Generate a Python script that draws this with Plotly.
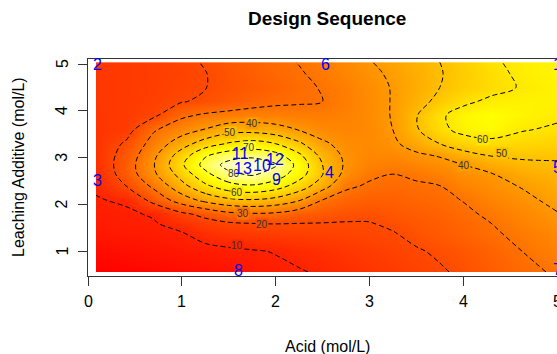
import plotly.graph_objects as go

acid = [0.085, 0.4, 0.7, 1.0, 1.25, 1.5, 1.75, 2.0, 2.25, 2.5, 2.75, 3.0, 3.25, 3.5, 3.75, 4.0, 4.3, 4.65, 5.0]
additive = [0.56, 1.0, 1.4, 1.6, 1.8, 2.1, 2.4, 2.65, 2.85, 3.05, 3.3, 3.6, 3.9, 4.2, 4.5, 4.8, 5.04]

# response[i][j] at additive[i], acid[j]
response = [
    [1, 2, 3, 4, 5, 6, 7.3, 8.5, 9.5, 10.8, 12.5, 14.2, 15.8, 17.5, 19.2, 21.2, 24.5, 28, 31],
    [4, 5, 6, 7, 7.8, 8.6, 9.4, 10.3, 11.8, 13.3, 14.8, 16.3, 17.8, 19.3, 21, 23, 26, 30.2, 34],
    [7, 7.8, 8.2, 9.7, 12.9, 14.8, 16, 16.8, 17.5, 17.8, 18.3, 19, 19.7, 22, 24.1, 26.3, 28.9, 32.5, 36],
    [8, 8.5, 9.3, 13.6, 16.9, 19, 20, 20.2, 20, 19.8, 19.6, 19.7, 21.2, 23.2, 24.8, 27, 30, 34.3, 38],
    [8.5, 8.8, 10.8, 18.2, 22.5, 27.5, 29, 28.3, 24.5, 23.3, 22, 21.5, 23, 24.5, 26, 28.3, 31.5, 35.5, 39.5],
    [9.5, 11, 23.2, 35, 43, 48, 49.5, 47, 41, 30, 26.6, 25, 25.4, 26.7, 28, 30.3, 34.5, 38.1, 42.3],
    [11, 19.8, 32, 47, 58.2, 66.5, 69, 64.8, 55.7, 44.4, 31.5, 29, 27.9, 28.9, 29.9, 34.2, 37.2, 40.8, 45],
    [12, 24, 38.3, 54, 67.4, 77.8, 81.4, 75.7, 64.5, 50.3, 37, 31.5, 30, 31.5, 33.9, 37.4, 39.5, 45, 47.3],
    [13, 24.7, 39.5, 58.6, 73.5, 83.5, 88, 81, 66.7, 50, 38.5, 34, 33, 34.8, 37.1, 40, 44.5, 48.2, 49],
    [13.5, 23.5, 37.9, 55, 69, 75.4, 77.1, 73.6, 62, 47, 38, 35.5, 35.5, 38.5, 40.7, 46.7, 50.5, 51.5, 51.3],
    [14, 21, 33.7, 45.7, 55, 61, 63.8, 60, 51.8, 41.5, 37, 36, 38.5, 43.6, 50, 54.7, 57.1, 55.7, 54.7],
    [14.3, 16, 29, 35.5, 40.5, 46, 46.3, 44, 39.5, 36, 35, 36, 40, 49, 57.4, 63, 65, 60.5, 58.7],
    [14.6, 16, 18.5, 28.5, 31.5, 33, 34, 33.5, 33, 33, 34, 36.5, 40.5, 49.5, 58.5, 64, 66.5, 63.5, 61.5],
    [15, 16, 17.5, 19.5, 21.5, 24, 26.5, 28.5, 29.2, 30, 33, 36.5, 40.5, 46.5, 52.5, 58, 62, 63, 63],
    [15, 16, 17, 18.5, 19.8, 22, 24, 26, 28.3, 30.5, 33.5, 37, 40.5, 45, 50, 53.5, 57, 61, 63],
    [15, 15.8, 16.7, 18, 19.8, 22.5, 25, 27.5, 29.3, 32, 35, 38, 41.5, 45.5, 49.5, 53, 57.5, 62, 64],
    [15, 16, 17, 18.5, 20.5, 23, 25.5, 28, 30.3, 33, 36, 39.5, 43, 46.5, 50, 54, 59, 62, 64],
]

# Design points (run order labels)
design_labels = ["1", "2", "3", "4", "5", "6", "7", "8", "9", "10", "11", "12", "13"]
design_acid = [5.0, 0.1, 0.1, 2.57, 5.0, 2.53, 5.0, 1.6, 2.01, 1.86, 1.63, 1.99, 1.65]
design_additive = [5.0, 5.0, 2.52, 2.69, 2.8, 5.0, 0.62, 0.6, 2.54, 2.84, 3.09, 2.96, 2.77]

# Contour labels as placed in the reference
label_levels = [40, 50, 70, 80, 60, 30, 20, 10, 60, 50, 40]
label_acid = [1.75, 1.51, 1.72, 1.56, 1.59, 1.65, 1.85, 1.59, 4.21, 4.41, 4.01]
label_additive = [3.74, 3.53, 3.21, 2.67, 2.26, 1.82, 1.58, 1.13, 3.40, 3.10, 2.84]

x_ticks = [0, 1, 2, 3, 4, 5]
x_tick_labels = ["0", "1", "2", "3", "4", "5"]
y_ticks = [1, 2, 3, 4, 5]
y_tick_labels = ["1", "2", "3", "4", "5"]
contour_start, contour_end, contour_step = 10, 80, 10

heat = [
    [0.0, "#FF0000"], [0.125, "#FF2A00"], [0.25, "#FF5500"], [0.375, "#FF8000"],
    [0.5, "#FFAA00"], [0.625, "#FFD500"], [0.75, "#FFFF00"], [0.875, "#FFFF80"],
    [1.0, "#FFFFF4"],
]

zmin = min(min(r) for r in response)
zmax = max(max(r) for r in response)


def heat_at(v):
    t = (v - zmin) / (zmax - zmin)
    t = max(0.0, min(1.0, t))
    for (t0, c0), (t1, c1) in zip(heat[:-1], heat[1:]):
        if t0 <= t <= t1:
            f = (t - t0) / (t1 - t0)
            a = [int(c0[i:i + 2], 16) for i in (1, 3, 5)]
            b = [int(c1[i:i + 2], 16) for i in (1, 3, 5)]
            return "rgb(%d,%d,%d)" % tuple(round(p + (q - p) * f) for p, q in zip(a, b))
    return heat[-1][1]


FONT = "Liberation Sans, Arial, Helvetica, sans-serif"

W, H = 557, 354
L, T = 88, 59
PLOT_W = W - L          # plot right edge at x = 557
PLOT_B = 276            # plot bottom at y = 276
PLOT_H = PLOT_B - T


def px_x(page_x):
    return (page_x - L) / PLOT_W


def px_y(page_y):
    return (PLOT_B - page_y) / PLOT_H


fig = go.Figure()
fig.add_trace(go.Contour(
    x=acid, y=additive, z=response, colorscale=heat, zmin=zmin, zmax=zmax,
    contours=dict(coloring="heatmap", showlines=False), ncontours=60,
    line=dict(width=0), showscale=False, hoverinfo="skip",
))
fig.add_trace(go.Contour(
    x=acid, y=additive, z=response,
    contours=dict(coloring="none", start=contour_start, end=contour_end, size=contour_step,
                  showlabels=False),
    line=dict(color="black", width=1, dash="5px,3px", smoothing=1.0),
    showscale=False, hoverinfo="skip",
))

axis_common = dict(
    showgrid=False, zeroline=False, showline=True, linecolor="#333333", linewidth=1,
    mirror=True, ticks="outside", ticklen=9, tickcolor="#333333",
)

annotations = []
# contour level labels (background = heat colour of that level, hides the line under it)
for lv, lx, ly in zip(label_levels, label_acid, label_additive):
    annotations.append(dict(text=str(lv), x=lx, y=ly, xref="x", yref="y", showarrow=False,
                            xanchor="center", yanchor="middle", bgcolor=heat_at(lv),
                            borderpad=0, font=dict(size=10, family=FONT, color="#333333")))
# design point numbers, drawn on top of the contour labels
for lab, dx, dy in zip(design_labels, design_acid, design_additive):
    annotations.append(dict(text=lab, x=dx, y=dy, xref="x", yref="y", showarrow=False,
                            xanchor="center", yanchor="middle",
                            font=dict(size=16, family=FONT, color="#0000FF")))
annotations += [
    dict(text="<b>Design Sequence</b>", x=px_x(327), y=px_y(18),
         xref="paper", yref="paper", showarrow=False, xanchor="center", yanchor="middle",
         font=dict(size=19, family=FONT, color="black")),
    dict(text="Acid (mol/L)", x=px_x(327), y=px_y(346),
         xref="paper", yref="paper", showarrow=False, xanchor="center", yanchor="middle",
         font=dict(size=16, family=FONT, color="black")),
    dict(text="Leaching Additive (mol/L)", x=px_x(18), y=px_y(167), textangle=-90,
         xref="paper", yref="paper", showarrow=False, xanchor="center", yanchor="middle",
         font=dict(size=16, family=FONT, color="black")),
]
for v, lab in zip(x_ticks, x_tick_labels):
    annotations.append(dict(text=lab, x=v, y=px_y(301), xref="x", yref="paper",
                            showarrow=False, xanchor="center", yanchor="middle",
                            font=dict(size=16, family=FONT, color="black")))
for v, lab in zip(y_ticks, y_tick_labels):
    annotations.append(dict(text=lab, x=px_x(62), y=v, xref="paper", yref="y", textangle=-90,
                            showarrow=False, xanchor="center", yanchor="middle",
                            font=dict(size=16, family=FONT, color="black")))

fig.update_layout(
    width=W, height=H, margin=dict(l=L, r=0, t=T, b=H - PLOT_B, autoexpand=False),
    paper_bgcolor="white", plot_bgcolor="white", showlegend=False,
    xaxis=dict(range=[0, 5.0], tickvals=x_ticks, showticklabels=False, automargin=False, **axis_common),
    yaxis=dict(range=[0.477, 5.107], tickvals=y_ticks, showticklabels=False, automargin=False, **axis_common),
    annotations=annotations,
)
fig.write_html(
    "out.html",
    config={"displayModeBar": False, "staticPlot": True},
    post_script="document.body.style.margin='0';document.body.style.overflow='hidden';",
)
